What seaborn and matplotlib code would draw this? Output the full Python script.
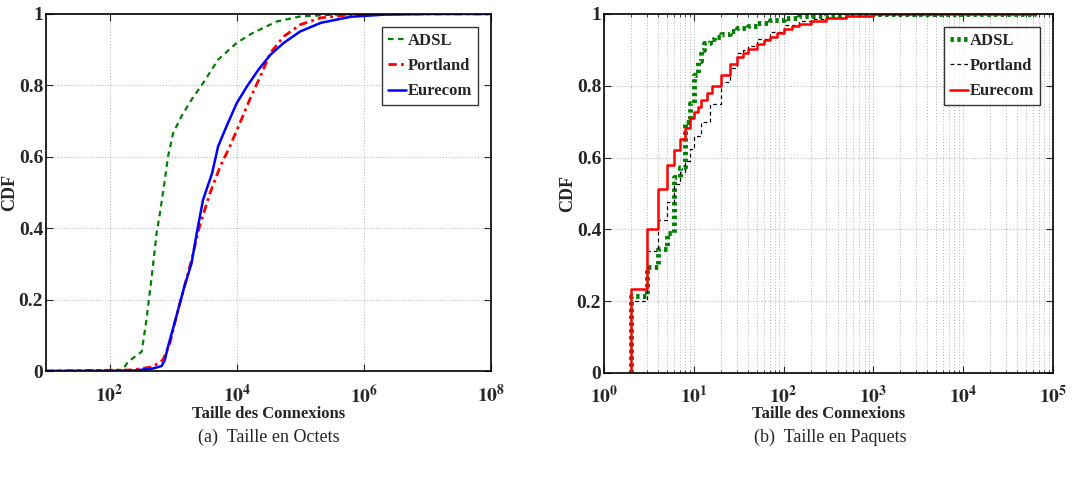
import numpy as np
import matplotlib
matplotlib.use('Agg')
import matplotlib.pyplot as plt
import matplotlib.ticker as mticker
import seaborn as sns

# Taille en octets (CDF)
adsl_oct_x = [1e1, 1.6e2, 1.95e2, 3.2e2, 3.8e2, 4.6e2, 5.5e2, 6.2e2, 7.4e2, 8.3e2, 1.0e3,
              1.35e3, 1.95e3, 2.95e3, 5.1e3, 1.0e4, 1.8e4, 4.3e4, 1.0e5, 3.4e5, 1.1e6, 1e8]
adsl_oct_y = [0, 0.003, 0.026, 0.054, 0.143, 0.264, 0.386, 0.442, 0.535, 0.60, 0.666,
              0.713, 0.76, 0.806, 0.872, 0.919, 0.947, 0.979, 0.993, 0.998, 1.0, 1.0]
portland_oct_x = [1e1, 2.3e2, 4.8e2, 6.9e2, 8.9e2, 1.12e3, 1.5e3, 1.95e3, 2.6e3, 3.8e3,
                  5.5e3, 7.8e3, 1.12e4, 1.6e4, 2.35e4, 3.4e4, 5.5e4, 1.0e5, 2.1e5, 6.2e5, 3.8e6, 1e8]
portland_oct_y = [0, 0.003, 0.012, 0.031, 0.078, 0.152, 0.236, 0.311, 0.405, 0.498,
                  0.573, 0.629, 0.694, 0.760, 0.825, 0.891, 0.937, 0.970, 0.989, 0.998, 1.0, 1.0]
eurecom_oct_x = [1e1, 2.3e2, 4.8e2, 6.6e2, 7.4e2, 8.3e2, 1.12e3, 1.5e3, 1.95e3, 2.35e3,
                 2.95e3, 4.1e3, 5.1e3, 6.9e3, 1.0e4, 1.45e4, 2.2e4, 3.4e4, 5.5e4, 1.0e5,
                 2.1e5, 6.2e5, 2.1e6, 1.26e7, 1e8]
eurecom_oct_y = [0, 0.001, 0.007, 0.014, 0.031, 0.068, 0.152, 0.236, 0.302, 0.386,
                 0.479, 0.554, 0.629, 0.685, 0.750, 0.797, 0.844, 0.886, 0.919, 0.951,
                 0.975, 0.992, 0.998, 1.0, 1.0]

# Taille en paquets
adsl_pkt_x = [2, 2, 3, 4, 5, 6, 7, 8, 9, 10, 11, 12, 13, 15, 17, 20, 25, 30, 40, 50, 70,
              100, 150, 200, 300, 500, 1000, 6.5e4]
adsl_pkt_y = [0, 0.215, 0.295, 0.345, 0.39, 0.545, 0.575, 0.70, 0.752, 0.83, 0.87, 0.90,
              0.92, 0.93, 0.935, 0.945, 0.952, 0.96, 0.967, 0.975, 0.982, 0.99, 0.993,
              0.995, 0.997, 0.999, 1.0, 1.0]
portland_pkt_x = [2, 2, 3, 4, 5, 6, 7, 8, 9, 10, 12, 15, 20, 25, 30, 35, 40, 50, 70, 100,
                  150, 200, 300, 500, 1000, 5000, 6.5e4]
portland_pkt_y = [0, 0.20, 0.34, 0.425, 0.475, 0.525, 0.56, 0.59, 0.625, 0.66, 0.70, 0.75,
                  0.81, 0.85, 0.89, 0.90, 0.91, 0.93, 0.95, 0.97, 0.98, 0.985, 0.99, 0.995,
                  0.998, 1.0, 1.0]
eurecom_pkt_x = [2, 2, 3, 4, 5, 6, 7, 8, 9, 10, 11, 12, 14, 16, 20, 25, 30, 35, 40, 50, 60,
                 70, 85, 100, 125, 150, 200, 300, 500, 1000, 6.5e4]
eurecom_pkt_y = [0, 0.235, 0.40, 0.513, 0.58, 0.622, 0.652, 0.683, 0.71, 0.728, 0.74, 0.76,
                 0.78, 0.80, 0.83, 0.86, 0.88, 0.892, 0.902, 0.915, 0.927, 0.937, 0.948,
                 0.957, 0.965, 0.972, 0.98, 0.99, 0.995, 0.999, 1.0]

labels = ['ADSL', 'Portland', 'Eurecom']

sns.set_style('ticks')
plt.rcParams['font.family'] = ['Liberation Serif', 'DejaVu Serif']
plt.rcParams['mathtext.fontset'] = 'stix'

fig = plt.figure(figsize=(10.74, 4.8), dpi=100)
ax1 = fig.add_axes([0.0428, 0.227, 0.4144, 0.744])
ax2 = fig.add_axes([0.5624, 0.223, 0.418, 0.748])

green = (0, 0.5, 0)
kw = dict(estimator=None, sort=False)

# (a) octets
sns.lineplot(x=adsl_oct_x, y=adsl_oct_y, ax=ax1, color=green, lw=1.6,
             linestyle=(0, (2.5, 2)), label=labels[0], **kw)
sns.lineplot(x=portland_oct_x, y=portland_oct_y, ax=ax1, color='red', lw=2,
             linestyle=(0, (3, 1.5, 1, 1.5)), label=labels[1], **kw)
sns.lineplot(x=eurecom_oct_x, y=eurecom_oct_y, ax=ax1, color='blue', lw=1.8,
             label=labels[2], **kw)
ax1.set_xscale('log')
ax1.set_xlim(1e1, 1e8)
ax1.xaxis.set_major_locator(mticker.FixedLocator([1e2, 1e4, 1e6, 1e8]))
ax1.xaxis.set_minor_locator(mticker.NullLocator())
ax1.set_xticklabels([r'$\mathbf{10^{%d}}$' % e for e in [2, 4, 6, 8]])

# (b) paquets
sns.lineplot(x=adsl_pkt_x, y=adsl_pkt_y, ax=ax2, color=green, lw=3.5,
             linestyle=(0, (0.7, 0.7)), drawstyle='steps-post', label=labels[0], **kw)
sns.lineplot(x=portland_pkt_x, y=portland_pkt_y, ax=ax2, color='black', lw=0.9,
             linestyle=(0, (3, 2.5)), drawstyle='steps-post', label=labels[1], **kw)
sns.lineplot(x=eurecom_pkt_x, y=eurecom_pkt_y, ax=ax2, color='red', lw=1.8,
             drawstyle='steps-post', label=labels[2], **kw)
ax2.set_xscale('log')
ax2.set_xlim(1e0, 1e5)
ax2.xaxis.set_major_locator(mticker.FixedLocator([1e0, 1e1, 1e2, 1e3, 1e4, 1e5]))
ax2.xaxis.set_minor_locator(mticker.LogLocator(base=10, subs=np.arange(2, 10), numticks=20))
ax2.xaxis.set_minor_formatter(mticker.NullFormatter())
ax2.set_xticklabels([r'$\mathbf{10^{%d}}$' % e for e in range(6)])
ax2.grid(True, which='minor', axis='x', color='#b0b0b0', linestyle=(0, (1, 2)), lw=0.7)

for ax in (ax1, ax2):
    ax.set_ylim(0, 1)
    ax.set_yticks([0, 0.2, 0.4, 0.6, 0.8, 1])
    ax.set_yticklabels(['0', '0.2', '0.4', '0.6', '0.8', '1'])
    ax.grid(True, which='major', color='#b0b0b0', linestyle=(0, (1, 2)), lw=0.7)
    ax.tick_params(which='both', direction='in', top=True, right=True, labelsize=14)
    ax.tick_params(axis='x', which='major', pad=9)
    ax.tick_params(axis='y', which='major', pad=2)
    ax.tick_params(which='major', length=5)
    ax.tick_params(which='minor', length=2.5)
    for lab in ax.get_yticklabels():
        lab.set_fontweight('bold')
    for s in ax.spines.values():
        s.set_linewidth(1.2)
        s.set_color('black')
    ax.set_xlabel('Taille des Connexions', fontsize=12, fontweight='bold', labelpad=-1)
    ax.set_ylabel('CDF', fontsize=13, fontweight='bold')
    ax.yaxis.set_label_coords(-0.063, 0.5)
    leg = ax.legend(loc='upper right', frameon=True, fancybox=False,
                    handlelength=1.1, handletextpad=0.1, borderpad=0.35,
                    labelspacing=0.55, borderaxespad=0.8,
                    prop={'weight': 'bold', 'size': 12})
    leg.get_frame().set_edgecolor('black')
    leg.get_frame().set_linewidth(1.0)

fig.text(0.25, 0.088, '(a)  Taille en Octets', ha='center', va='center', fontsize=13)
fig.text(0.773, 0.088, '(b)  Taille en Paquets', ha='center', va='center', fontsize=13)

fig.savefig('out.png', dpi=100)
